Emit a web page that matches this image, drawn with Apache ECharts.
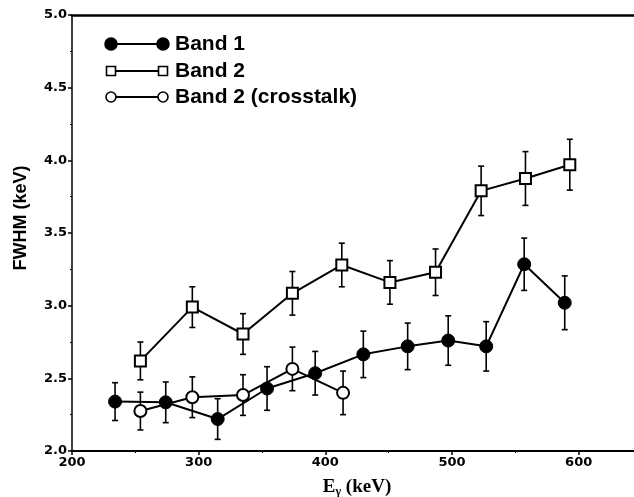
<!DOCTYPE html>
<html>
<head>
<meta charset="utf-8">
<script src="https://cdn.jsdelivr.net/npm/echarts@6/dist/echarts.min.js"></script>
<style>
  html, body { margin: 0; padding: 0; background: #fff; }
  #chart { width: 634px; height: 497px; }
</style>
</head>
<body>
<div id="chart"></div>
<script>
// E_gamma (keV), FWHM (keV) and error for each band
var band1E = [234, 274, 315, 354, 392, 430, 465, 497, 527, 557, 589];
var band1Fwhm = [2.34, 2.335, 2.22, 2.43, 2.535, 2.665, 2.72, 2.76, 2.72, 3.285, 3.02];
var band1Err = [0.13, 0.14, 0.14, 0.15, 0.15, 0.16, 0.16, 0.17, 0.17, 0.18, 0.185];

var band2E = [254, 295, 335, 374, 413, 451, 487, 523, 558, 593];
var band2Fwhm = [2.62, 2.99, 2.805, 3.085, 3.28, 3.16, 3.23, 3.79, 3.875, 3.97];
var band2Err = [0.13, 0.14, 0.14, 0.15, 0.15, 0.15, 0.16, 0.17, 0.185, 0.175];

var crossE = [254, 295, 335, 374, 414];
var crossFwhm = [2.275, 2.37, 2.385, 2.565, 2.40];
var crossErr = [0.13, 0.14, 0.14, 0.15, 0.15];

var legendNames = ['Band 1', 'Band 2', 'Band 2 (crosstalk)'];

var chart = echarts.init(document.getElementById('chart'));

function pts(xs, ys) {
    return xs.map(function (x, i) { return [x, ys[i]]; });
}
function bars(xs, ys, es) {
    return xs.map(function (x, i) { return [x, ys[i] - es[i], ys[i] + es[i]]; });
}

function errorBar(params, api) {
    var lo = api.coord([api.value(0), api.value(1)]);
    var hi = api.coord([api.value(0), api.value(2)]);
    var st = { stroke: '#000', lineWidth: 1.6 };
    return {
        type: 'group',
        children: [
            { type: 'line', shape: { x1: lo[0], y1: lo[1], x2: hi[0], y2: hi[1] }, style: st },
            { type: 'line', shape: { x1: lo[0] - 3, y1: lo[1], x2: lo[0] + 3, y2: lo[1] }, style: st },
            { type: 'line', shape: { x1: hi[0] - 3, y1: hi[1], x2: hi[0] + 3, y2: hi[1] }, style: st }
        ]
    };
}

var tickFont = { fontFamily: 'DejaVu Sans', fontWeight: 'bold', fontSize: 13, color: '#000' };
var legendFont = { fontFamily: 'Liberation Sans', fontWeight: 'bold', fontSize: 21, fill: '#000' };

// legend drawn by hand: marker, line, marker, text
function legendRow(y, symbol, filled, name) {
    var items = [
        { type: 'line', shape: { x1: 111, y1: y, x2: 163, y2: y }, style: { stroke: '#000', lineWidth: 2 } }
    ];
    [111, 163].forEach(function (cx) {
        if (symbol === 'rect') {
            items.push({ type: 'rect', shape: { x: cx - 4.5, y: y - 4.5, width: 9, height: 9 },
                style: { fill: '#fff', stroke: '#000', lineWidth: 1.6 } });
        } else {
            items.push({ type: 'circle', shape: { cx: cx, cy: y, r: filled ? 6 : 5 },
                style: { fill: filled ? '#000' : '#fff', stroke: '#000', lineWidth: 1.6 } });
        }
    });
    items.push({ type: 'text', x: 175, y: y, style: Object.assign({ text: name, verticalAlign: 'middle' }, legendFont) });
    return items;
}

var option = {
    animation: false,
    grid: { left: 72, right: -8, top: 15, bottom: 46, outerBoundsMode: 'none' },
    xAxis: [{
        type: 'value', min: 200, max: 650, interval: 100,
        name: '{e|E}{g|γ}{e| (keV)}', nameLocation: 'middle', nameGap: 26,
        nameTextStyle: {
            rich: {
                e: { fontFamily: 'Liberation Serif', fontWeight: 'bold', fontSize: 19, color: '#000' },
                g: { fontFamily: 'Liberation Serif', fontWeight: 'bold', fontSize: 12, color: '#000', verticalAlign: 'bottom', padding: [9, 0, 0, 0] }
            }
        },
        axisLine: { lineStyle: { color: '#000', width: 2 } },
        axisTick: { length: 4, lineStyle: { color: '#000', width: 1.5 } },
        minorTick: { show: true, splitNumber: 2, length: 2, lineStyle: { color: '#000' } },
        axisLabel: Object.assign({ margin: 5, showMaxLabel: false }, tickFont),
        splitLine: { show: false }
    }, {
        type: 'value', min: 200, max: 650, position: 'top',
        axisLine: { show: true, lineStyle: { color: '#000', width: 2.5 } },
        axisTick: { show: false }, axisLabel: { show: false }, splitLine: { show: false }
    }],
    yAxis: {
        type: 'value', min: 2, max: 5, interval: 0.5,
        name: 'FWHM (keV)', nameLocation: 'middle', nameGap: 42,
        nameTextStyle: { fontFamily: 'Liberation Sans', fontWeight: 'bold', fontSize: 18, color: '#000', padding: [0, 0, 0, 30] },
        axisLine: { show: true, lineStyle: { color: '#000', width: 1.5 } },
        axisTick: { length: 4, lineStyle: { color: '#000', width: 1.5 } },
        minorTick: { show: true, splitNumber: 2, length: 2, lineStyle: { color: '#000' } },
        axisLabel: Object.assign({ margin: 5, formatter: function (v) { return v.toFixed(1); } }, tickFont),
        splitLine: { show: false }
    },
    graphic: legendRow(44, 'circle', true, legendNames[0])
        .concat(legendRow(71, 'rect', false, legendNames[1]))
        .concat(legendRow(97, 'circle', false, legendNames[2])),
    series: [
        { type: 'custom', renderItem: errorBar, data: bars(band1E, band1Fwhm, band1Err), z: 1 },
        { type: 'custom', renderItem: errorBar, data: bars(band2E, band2Fwhm, band2Err), z: 1 },
        { type: 'custom', renderItem: errorBar, data: bars(crossE, crossFwhm, crossErr), z: 1 },
        {
            name: legendNames[0], type: 'line', data: pts(band1E, band1Fwhm), z: 3,
            symbol: 'circle', symbolSize: 13,
            lineStyle: { color: '#000', width: 2 },
            itemStyle: { color: '#000', borderColor: '#000' }
        },
        {
            name: legendNames[1], type: 'line', data: pts(band2E, band2Fwhm), z: 3,
            symbol: 'rect', symbolSize: 11,
            lineStyle: { color: '#000', width: 2 },
            itemStyle: { color: '#fff', borderColor: '#000', borderWidth: 2 }
        },
        {
            name: legendNames[2], type: 'line', data: pts(crossE, crossFwhm), z: 3,
            symbol: 'circle', symbolSize: 12,
            lineStyle: { color: '#000', width: 2 },
            itemStyle: { color: '#fff', borderColor: '#000', borderWidth: 2 }
        }
    ]
};

chart.setOption(option);
</script>
</body>
</html>
